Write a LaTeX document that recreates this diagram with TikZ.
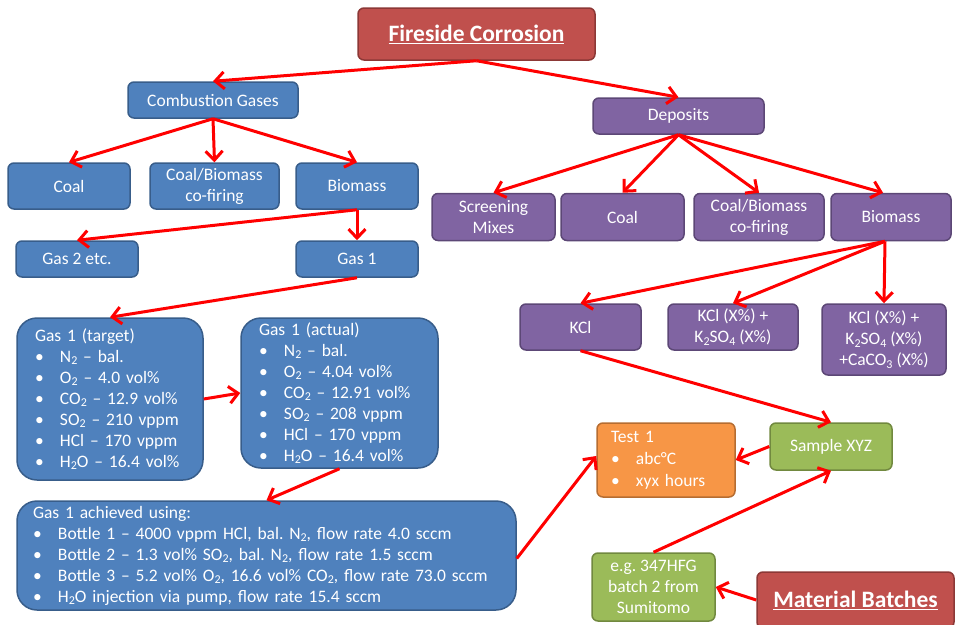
\documentclass[tikz,border=0pt]{standalone}
\usepackage{fontspec}
\setmainfont{Carlito}
\usetikzlibrary{arrows.meta}
\frenchspacing
\definecolor{bfill}{HTML}{4F81BD}
\definecolor{bdraw}{HTML}{385D8A}
\definecolor{pfill}{HTML}{8064A2}
\definecolor{pdraw}{HTML}{5C4776}
\definecolor{rfill}{HTML}{C0504D}
\definecolor{rdraw}{HTML}{8C3836}
\definecolor{ofill}{HTML}{F79646}
\definecolor{odraw}{HTML}{B66D31}
\definecolor{gfill}{HTML}{9BBB59}
\definecolor{gdraw}{HTML}{71893F}
\definecolor{arrred}{HTML}{FF0000}
\newcommand\sbs[1]{\raisebox{-0.3ex}{\fontsize{12}{12}\selectfont #1}}
\newcommand\bl{\makebox[25pt][l]{\textbullet}}
\tikzset{
  box/.style={rounded corners=6pt, line width=1.5pt, text=white, align=center,
    font=\fontsize{17.5}{21}\selectfont\frenchspacing, inner sep=0pt},
  bluebox/.style={box, fill=bfill, draw=bdraw},
  purpbox/.style={box, fill=pfill, draw=pdraw},
  redbox/.style={box, fill=rfill, draw=rdraw, font=\fontsize{23.5}{26}\selectfont\bfseries},
  orbox/.style={box, fill=ofill, draw=odraw},
  grbox/.style={box, fill=gfill, draw=gdraw},
  lstbox/.style={bluebox, rounded corners=20pt, align=left},
  arr/.style={draw=arrred, line width=3pt, -{Straight Barb[length=9pt,width=17pt]}}
}
\begin{document}
\begin{tikzpicture}[x=1pt,y=-1pt]
\useasboundingbox (0,0) rectangle (956,624);
% top level
\node[redbox, minimum width=237pt, minimum height=52pt] (fire) at (476.5,34) {\underline{Fireside Corrosion}};
\node[bluebox, minimum width=170pt, minimum height=36pt] (cg) at (213,100) {Combustion Gases};
\node[purpbox, minimum width=171pt, minimum height=36pt] (dep) at (678.5,116) {Deposits};
% gases
\node[bluebox, minimum width=122pt, minimum height=46pt] (gcoal) at (69,186) {Coal};
\node[bluebox, minimum width=129pt, minimum height=46pt] (gcofire) at (214.5,186) {Coal/Biomass\\co-firing};
\node[bluebox, minimum width=122pt, minimum height=46pt] (gbio) at (357,186) {Biomass};
\node[bluebox, minimum width=122pt, minimum height=36pt] (gas2) at (77,259) {Gas 2 etc.};
\node[bluebox, minimum width=122pt, minimum height=36pt] (gas1) at (357,259) {Gas 1};
% deposits
\node[purpbox, minimum width=123pt, minimum height=47pt] (screen) at (493.5,217) {Screening\\Mixes};
\node[purpbox, minimum width=123pt, minimum height=47pt] (dcoal) at (622.5,217) {Coal};
\node[purpbox, minimum width=130pt, minimum height=47pt] (dcofire) at (759,217) {Coal/Biomass\\co-firing};
\node[purpbox, minimum width=120pt, minimum height=47pt] (dbio) at (891,217) {Biomass};
\node[purpbox, minimum width=121pt, minimum height=46pt] (kcl) at (580.5,327) {KCl};
\node[purpbox, minimum width=130pt, minimum height=46pt] (kk) at (733,327) {KCl (X\%) +\\K\sbs{2}SO\sbs{4} (X\%)};
\node[purpbox, minimum width=124pt, minimum height=71pt] (kkc) at (884,339.5) {KCl (X\%) +\\K\sbs{2}SO\sbs{4} (X\%)\\+CaCO\sbs{3} (X\%)};
% gas lists
\node[lstbox, text width=150pt, inner xsep=18pt, minimum height=162pt] (gt) at (110,399)
 {Gas 1 (target)\\
  \bl N\sbs{2} – bal.\\
  \bl O\sbs{2} – 4.0 vol\%\\
  \bl CO\sbs{2} – 12.9 vol\%\\
  \bl SO\sbs{2} – 210 vppm\\
  \bl HCl – 170 vppm\\
  \bl H\sbs{2}O – 16.4 vol\%};
\node[lstbox, text width=161pt, inner xsep=18pt, minimum height=150pt] (ga) at (339.5,393)
 {Gas 1 (actual)\\
  \bl N\sbs{2} – bal.\\
  \bl O\sbs{2} – 4.04 vol\%\\
  \bl CO\sbs{2} – 12.91 vol\%\\
  \bl SO\sbs{2} – 208 vppm\\
  \bl HCl – 170 vppm\\
  \bl H\sbs{2}O – 16.4 vol\%};
\node[lstbox, text width=467pt, inner xsep=16pt, minimum height=109pt] (ach) at (266.5,555.5)
 {Gas 1 achieved using:\\
  \bl Bottle 1 – 4000 vppm HCl, bal. N\sbs{2}, flow rate 4.0 sccm\\
  \bl Bottle 2 – 1.3 vol\% SO\sbs{2}, bal. N\sbs{2}, flow rate 1.5 sccm\\
  \bl Bottle 3 – 5.2 vol\% O\sbs{2}, 16.6 vol\% CO\sbs{2}, flow rate 73.0 sccm\\
  \bl H\sbs{2}O injection via pump, flow rate 15.4 sccm};
% test / samples
\node[orbox, align=left, text width=110pt, inner xsep=14pt, minimum height=74pt,
      font=\fontsize{17.5}{22}\selectfont] (test) at (666,460)
 {Test 1\\ \bl abc°C\\ \bl xyx hours};
\node[grbox, minimum width=122pt, minimum height=47pt] (sample) at (831,446.5) {Sample XYZ};
\node[grbox, minimum width=123pt, minimum height=68pt] (eg) at (653.5,587) {e.g. 347HFG\\batch 2 from\\Sumitomo};
\node[redbox, minimum width=197pt, minimum height=56pt] (mat) at (855.5,600) {\underline{Material Batches}};
% connectors
\draw[arr] (fire.south) -- (cg.north);
\draw[arr] (fire.south) -- (dep.north);
\draw[arr] (cg.south) -- (gcoal.north);
\draw[arr] (cg.south) -- (gcofire.north);
\draw[arr] (cg.south) -- (gbio.north);
\draw[arr] (gbio.south) -- (gas2.north);
\draw[arr] (gbio.south) -- (gas1.north);
\draw[arr] (gas1.south) -- (gt.north);
\draw[arr] (gt.east) -- (ga.west);
\draw[arr] (ga.south) -- (ach.north);
\draw[arr] ([yshift=-3pt]ach.east) -- ([yshift=4pt]test.west);
\draw[arr] (dep.south) -- (screen.north);
\draw[arr] (dep.south) -- (dcoal.north);
\draw[arr] (dep.south) -- (dcofire.north);
\draw[arr] (dep.south) -- ([xshift=-8pt]dbio.north);
\draw[arr] ([xshift=-6pt]dbio.south) -- (kcl.north);
\draw[arr] ([xshift=-6pt]dbio.south) -- (kk.north);
\draw[arr] ([xshift=-6pt]dbio.south) -- (kkc.north);
\draw[arr] (kcl.south) -- (sample.north);
\draw[arr] (sample.west) -- (test.east);
\draw[arr] (eg.north) -- (sample.south);
\draw[arr] (mat.west) -- (eg.east);
\end{tikzpicture}
\end{document}
